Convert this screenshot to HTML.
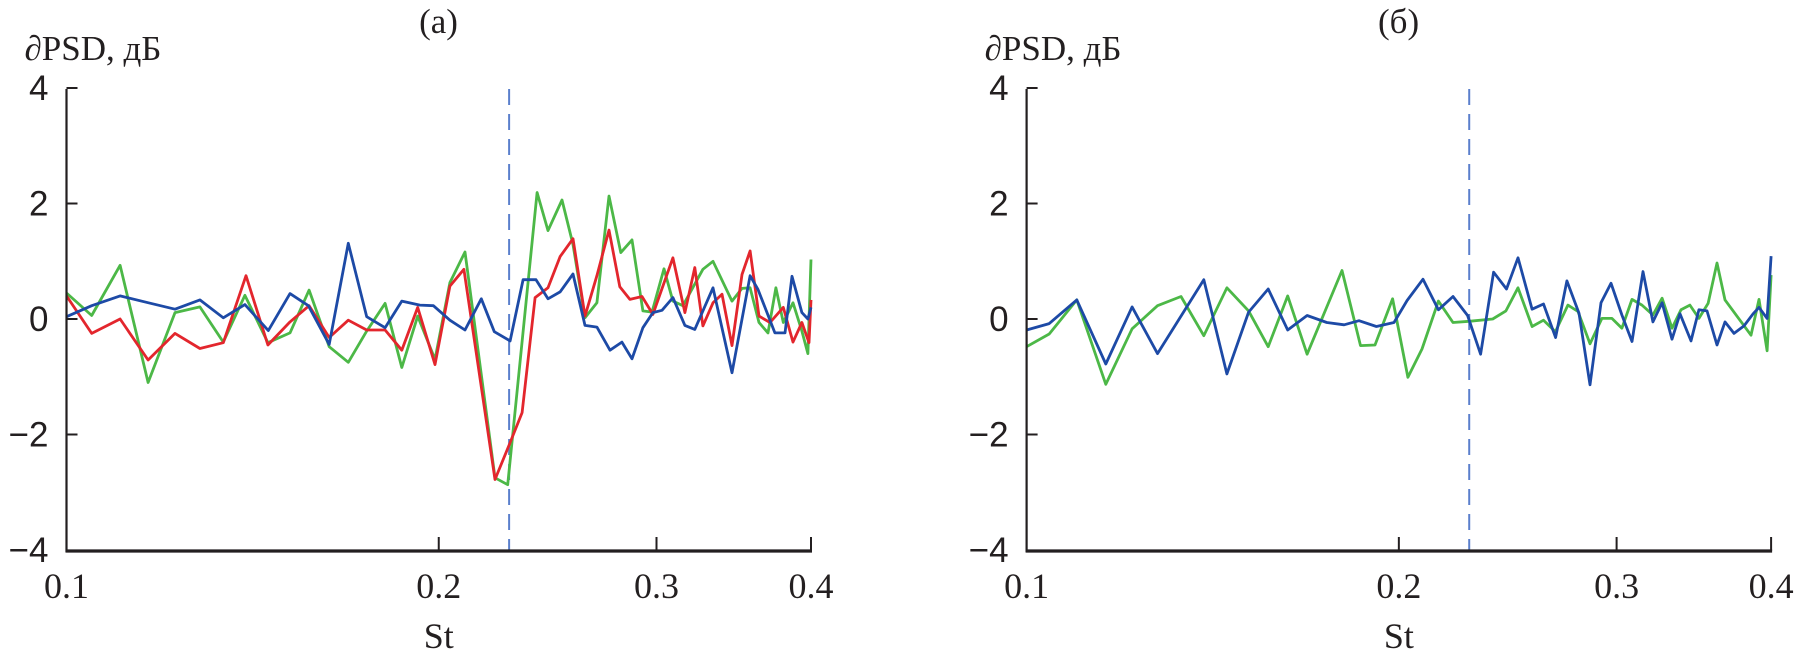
<!DOCTYPE html>
<html><head><meta charset="utf-8">
<style>
html,body{margin:0;padding:0;background:#fff;}
svg{display:block;}
.ser{font-family:"Liberation Serif","DejaVu Serif",serif;fill:#231f20;}
.san{font-family:"Liberation Sans","DejaVu Sans",sans-serif;fill:#231f20;}
</style></head>
<body>
<svg id="chart" width="1797" height="661" viewBox="0 0 1797 661" xmlns="http://www.w3.org/2000/svg"></svg>
<script>
// ---- data ----
const xTicks = [0.1, 0.2, 0.3, 0.4];
const xTickLabels = ["0.1", "0.2", "0.3", "0.4"];
const yTicks = [4, 2, 0, -2, -4];
const yTickLabels = ["4", "2", "0", "\u22122", "\u22124"];
const markerSt = 0.228;

const aBlueSt = [.1000,.1048,.1105,.1165,.1224,.1282,.1339,.1394,.1456,.1516,.1569,.1631,.1690,.1749,.1810,.1867,.1931,.1980,.2042,.2100,.2165,.2218,.2284,.2340,.2397,.2451,.2507,.2568,.2626,.2685,.2751,.2813,.2866,.2925,.2980,.3031,.3093,.3163,.3222,.3333,.3453,.3571,.3624,.3740,.3811,.3861,.3933,.3977,.4000];
const aBlueVal = [.04,.23,.40,.28,.17,.33,.02,.25,-.20,.44,.23,-.44,1.31,.04,-.15,.31,.24,.23,-.02,-.19,.35,-.22,-.38,.68,.68,.35,.47,.78,-.11,-.14,-.54,-.40,-.69,-.15,.11,.15,.37,-.11,-.18,.54,-.93,.75,.51,-.24,-.24,.74,.11,0,.2];

const aRedSt = [.1000,.1048,.1105,.1164,.1224,.1282,.1339,.1397,.1455,.1516,.1571,.1631,.1690,.1749,.1810,.1867,.1923,.1986,.2042,.2096,.2221,.2284,.2336,.2393,.2451,.2507,.2568,.2626,.2685,.2746,.2802,.2855,.2920,.2980,.3093,.3163,.3222,.3271,.3333,.3389,.3453,.3518,.3571,.3631,.3706,.3799,.3868,.3933,.3985,.4000];
const aRedVal = [.40,-.25,0,-.71,-.25,-.51,-.41,.75,-.45,-.05,.23,-.32,-.02,-.19,-.19,-.54,.20,-.79,.57,.86,-2.78,-2.14,-1.62,.37,.54,1.08,1.39,.05,.75,1.54,.56,.34,.39,.08,1.06,.11,.89,-.12,.28,.43,-.46,.77,1.18,.05,-.06,.2,-.4,-.06,-.41,.33];

const aGreenSt = [.1000,.1048,.1105,.1164,.1224,.1282,.1339,.1394,.1455,.1516,.1571,.1631,.1690,.1749,.1810,.1867,.1923,.1986,.2042,.2100,.2221,.2274,.2402,.2451,.2516,.2568,.2626,.2685,.2746,.2807,.2866,.2925,.2975,.3042,.3093,.3151,.3271,.3333,.3453,.3518,.3571,.3631,.3692,.3747,.3799,.3868,.3933,.3977,.4000];
const aGreenVal = [.45,.06,.93,-1.10,.11,.21,-.40,.41,-.41,-.24,.50,-.48,-.75,-.21,.27,-.84,.05,-.70,.63,1.16,-2.75,-2.87,2.19,1.53,2.06,1.29,.02,.28,2.13,1.15,1.37,.14,.12,.87,.31,.23,.86,1.0,.31,.53,.54,-.06,-.24,.54,-.06,.28,-.21,-.6,1.03];

const bBlueSt = [.1000,.1043,.1098,.1159,.1217,.1276,.1391,.1452,.1512,.1568,.1626,.1686,.1749,.1806,.1857,.1918,.1982,.2031,.2092,.2153,.2212,.2273,.2329,.2386,.2444,.2497,.2563,.2618,.2678,.2735,.2797,.2855,.2914,.2969,.3030,.3087,.3151,.3210,.3265,.3326,.3376,.3446,.3497,.3550,.3617,.3671,.3733,.3803,.3868,.3911,.3970,.4000];
const bBlueVal = [-.19,-.08,.33,-.78,.21,-.6,.68,-.95,.12,.52,-.19,.06,-.06,-.1,-.03,-.13,-.06,.32,.69,.16,.39,.06,-.61,.81,.52,1.06,.17,.26,-.32,.66,.10,-1.14,.28,.62,.07,-.39,.82,-.05,.28,-.35,.09,-.38,.16,.14,-.45,-.05,-.25,-.12,.09,.2,.01,1.09];

const bGreenSt = [.1000,.1043,.1098,.1159,.1217,.1276,.1333,.1391,.1452,.1512,.1568,.1626,.1686,.1799,.1862,.1913,.1977,.2034,.2088,.2153,.2212,.2279,.2382,.2441,.2497,.2563,.2618,.2677,.2740,.2792,.2855,.2919,.2974,.3030,.3087,.3145,.3210,.3265,.3326,.3382,.3439,.3497,.3557,.3617,.3671,.3853,.3911,.3970,.4000];
const bGreenVal = [-.48,-.26,.33,-1.13,-.17,.23,.39,-.29,.54,.14,-.48,.40,-.61,.84,-.46,-.45,.35,-1.01,-.52,.31,-.06,-.04,0,.14,.54,-.13,-.02,-.22,.24,.13,-.43,.01,.01,-.16,.34,.24,.07,.36,-.16,.16,.24,.01,.27,.97,.33,-.28,.34,-.55,.76];

const BLUE = "#1d4aa6", GREEN = "#4cb847", RED = "#e3262d";
const NS = "http://www.w3.org/2000/svg";
const svg = document.getElementById("chart");

function mk(tag, attrs, parent) {
  const e = document.createElementNS(NS, tag);
  for (const k in attrs) e.setAttribute(k, attrs[k]);
  (parent || svg).appendChild(e);
  return e;
}

function panel(key, left, title, series) {
  const W = 744.5, top = 89, bottom = 551;
  const xs = st => left + Math.log(st / 0.1) / Math.log(4) * W;
  const ys = v => 319 - v * 57.75;
  const g = mk("g", {});
  
  

  const t = mk("text", {x: left + 372, y: 33, "text-anchor": "middle", "font-size": 35, class: "ser"}, g);
  t.textContent = title;
  
  
  const yt = mk("text", {x: left - 42, y: 60, "font-size": 35, class: "ser"}, g);
  yt.textContent = "\u2202PSD, \u0434\u0411";
  
  

  const dl = mk("line", {x1: xs(markerSt), x2: xs(markerSt), y1: top, y2: bottom, stroke: "#5a7fcc", "stroke-width": 2, "stroke-dasharray": "16,9"}, g);
  
  

  series.forEach(s => {
    const pts = s.st.map((st, i) => xs(st).toFixed(1) + "," + ys(s.v[i]).toFixed(1)).join(" ");
    const pl = mk("polyline", {points: pts, fill: "none", stroke: s.color, "stroke-width": 2.8, "stroke-linejoin": "round"}, g);
    
    
  });

  const ya = mk("line", {x1: left, x2: left, y1: top, y2: bottom + 1, stroke: "#231f20", "stroke-width": 2.2}, g);
  
  
  const xa = mk("line", {x1: left - 1, x2: left + W + 1, y1: bottom, y2: bottom, stroke: "#231f20", "stroke-width": 3.2}, g);
  
  

  yTicks.forEach((v, i) => {
    const y = ys(v);
    if (v !== -4) {
      const tk = mk("line", {x1: left, x2: left + 11, y1: y, y2: y, stroke: "#231f20", "stroke-width": 2}, g);
      
      
    }
    const lb = mk("text", {x: left - 18, y: y + 12, "text-anchor": "end", "font-size": 35, class: "san"}, g);
    lb.textContent = yTickLabels[i];
    
    
  });
  xTicks.forEach((v, i) => {
    const x = xs(v);
    if (i > 0) {
      const tk = mk("line", {x1: x, x2: x, y1: bottom, y2: bottom - 14, stroke: "#231f20", "stroke-width": 2}, g);
      
      
    }
    const lb = mk("text", {x: x, y: 598, "text-anchor": "middle", "font-size": 36, class: "ser"}, g);
    lb.textContent = xTickLabels[i];
    
    
  });
  const xt = mk("text", {x: xs(0.2), y: 648, "text-anchor": "middle", "font-size": 36, class: "ser"}, g);
  xt.textContent = "St";
  
  
}

panel("a", 66.5, "(a)", [
  {name: "series-green-a", st: aGreenSt, v: aGreenVal, color: GREEN},
  {name: "series-red-a", st: aRedSt, v: aRedVal, color: RED},
  {name: "series-blue-a", st: aBlueSt, v: aBlueVal, color: BLUE}
]);
panel("b", 1026.6, "(\u0431)", [
  {name: "series-green-b", st: bGreenSt, v: bGreenVal, color: GREEN},
  {name: "series-blue-b", st: bBlueSt, v: bBlueVal, color: BLUE}
]);
</script>
</body></html>
